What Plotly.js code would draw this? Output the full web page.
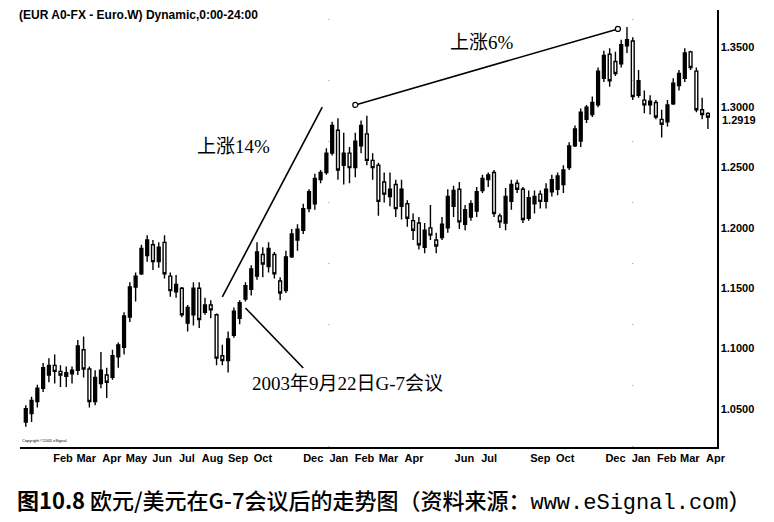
<!DOCTYPE html>
<html>
<head>
<meta charset="utf-8">
<script src="https://cdn.plot.ly/plotly-3.0.1.min.js"></script>
<style>
  html, body { margin: 0; padding: 0; background: #fff; }
  #chart { width: 774px; height: 522px; }
</style>
</head>
<body>
<div id="chart"></div>
<script>
// Weekly EUR/USD bars (first bar = week of 2002-12-30)
const firstWeek = '2002-12-30';

const openPx = [
  1.039, 1.046, 1.056, 1.067, 1.078, 1.086, 1.081, 1.077, 1.079, 1.082,
  1.099, 1.083, 1.056, 1.071, 1.078, 1.076, 1.093, 1.101, 1.126, 1.151,
  1.162, 1.177, 1.186, 1.172, 1.188, 1.160, 1.147, 1.150, 1.121, 1.128,
  1.150, 1.130, 1.136, 1.128, 1.094, 1.090, 1.111, 1.125, 1.141, 1.149,
  1.160, 1.178, 1.168, 1.178, 1.156, 1.148, 1.176, 1.190, 1.198, 1.216,
  1.220, 1.240, 1.246, 1.262, 1.281, 1.252, 1.262, 1.250, 1.268, 1.278,
  1.256, 1.252, 1.238, 1.226, 1.236, 1.218, 1.220, 1.206, 1.204, 1.184,
  1.200, 1.190, 1.192, 1.200, 1.218, 1.232, 1.203, 1.209, 1.214, 1.231,
  1.240, 1.246, 1.210, 1.204, 1.222, 1.237, 1.232, 1.208, 1.220, 1.228,
  1.222, 1.230, 1.232, 1.236, 1.250, 1.268, 1.272, 1.290, 1.294, 1.302,
  1.324, 1.344, 1.338, 1.336, 1.351, 1.355, 1.310, 1.306, 1.302, 1.304,
  1.290, 1.288, 1.303, 1.318, 1.324, 1.346, 1.330, 1.298, 1.295
];
const highPx = [
  1.053, 1.060, 1.070, 1.088, 1.092, 1.095, 1.086, 1.085, 1.085, 1.107,
  1.110, 1.085, 1.082, 1.097, 1.084, 1.099, 1.105, 1.130, 1.155, 1.163,
  1.186, 1.194, 1.190, 1.188, 1.194, 1.163, 1.161, 1.151, 1.136, 1.155,
  1.155, 1.142, 1.140, 1.129, 1.103, 1.114, 1.134, 1.140, 1.155, 1.169,
  1.188, 1.184, 1.188, 1.180, 1.159, 1.181, 1.199, 1.203, 1.220, 1.232,
  1.245, 1.248, 1.266, 1.288, 1.291, 1.279, 1.267, 1.279, 1.289, 1.293,
  1.262, 1.254, 1.246, 1.246, 1.240, 1.240, 1.223, 1.212, 1.209, 1.204,
  1.219, 1.196, 1.209, 1.232, 1.235, 1.238, 1.219, 1.223, 1.234, 1.244,
  1.246, 1.248, 1.212, 1.233, 1.240, 1.240, 1.234, 1.231, 1.231, 1.231,
  1.237, 1.244, 1.246, 1.252, 1.271, 1.285, 1.299, 1.302, 1.309, 1.333,
  1.347, 1.349, 1.346, 1.356, 1.3666, 1.358, 1.331, 1.314, 1.310, 1.306,
  1.298, 1.306, 1.324, 1.331, 1.349, 1.347, 1.333, 1.308, 1.296
];
const lowPx = [
  1.035, 1.039, 1.051, 1.064, 1.072, 1.071, 1.068, 1.068, 1.071, 1.078,
  1.076, 1.051, 1.053, 1.067, 1.059, 1.074, 1.084, 1.095, 1.122, 1.139,
  1.161, 1.172, 1.165, 1.167, 1.158, 1.143, 1.142, 1.126, 1.114, 1.119,
  1.117, 1.128, 1.125, 1.086, 1.086, 1.080, 1.109, 1.120, 1.139, 1.144,
  1.157, 1.159, 1.163, 1.158, 1.140, 1.146, 1.175, 1.181, 1.195, 1.213,
  1.215, 1.237, 1.244, 1.260, 1.240, 1.236, 1.237, 1.242, 1.262, 1.252,
  1.240, 1.210, 1.221, 1.218, 1.209, 1.207, 1.201, 1.190, 1.182, 1.179,
  1.190, 1.179, 1.190, 1.196, 1.209, 1.199, 1.198, 1.206, 1.209, 1.229,
  1.234, 1.209, 1.200, 1.198, 1.215, 1.229, 1.204, 1.206, 1.212, 1.216,
  1.216, 1.226, 1.227, 1.229, 1.248, 1.267, 1.267, 1.287, 1.292, 1.300,
  1.321, 1.317, 1.326, 1.333, 1.345, 1.306, 1.308, 1.295, 1.294, 1.290,
  1.275, 1.284, 1.302, 1.314, 1.321, 1.331, 1.296, 1.290, 1.282
];
const closePx = [
  1.050, 1.057, 1.067, 1.084, 1.086, 1.081, 1.078, 1.080, 1.082, 1.102,
  1.083, 1.056, 1.076, 1.082, 1.072, 1.094, 1.103, 1.127, 1.151, 1.160,
  1.183, 1.190, 1.172, 1.184, 1.162, 1.148, 1.153, 1.128, 1.134, 1.150,
  1.124, 1.136, 1.132, 1.092, 1.090, 1.108, 1.131, 1.138, 1.152, 1.166,
  1.180, 1.170, 1.183, 1.162, 1.146, 1.176, 1.195, 1.199, 1.216, 1.230,
  1.241, 1.246, 1.262, 1.285, 1.248, 1.262, 1.250, 1.272, 1.285, 1.256,
  1.250, 1.222, 1.228, 1.232, 1.216, 1.232, 1.208, 1.198, 1.186, 1.198,
  1.194, 1.185, 1.203, 1.226, 1.231, 1.205, 1.215, 1.220, 1.230, 1.241,
  1.244, 1.212, 1.205, 1.226, 1.236, 1.232, 1.207, 1.225, 1.226, 1.222,
  1.232, 1.240, 1.243, 1.248, 1.268, 1.282, 1.296, 1.300, 1.304, 1.330,
  1.343, 1.322, 1.328, 1.352, 1.356, 1.309, 1.322, 1.302, 1.305, 1.292,
  1.286, 1.302, 1.320, 1.328, 1.345, 1.333, 1.298, 1.294, 1.2919
];

// Month labels that the chart shows (some months are skipped)
const tickMonths = [
  '2003-02-01', '2003-03-01', '2003-04-01', '2003-05-01', '2003-06-01', '2003-07-01',
  '2003-08-01', '2003-09-01', '2003-10-01', '2003-12-01', '2004-01-01', '2004-02-01',
  '2004-03-01', '2004-04-01', '2004-06-01', '2004-07-01', '2004-09-01', '2004-10-01',
  '2004-12-01', '2005-01-01', '2005-02-01', '2005-03-01', '2005-04-01'
];
const tickNames = [
  'Feb', 'Mar', 'Apr', 'May', 'Jun', 'Jul', 'Aug', 'Sep', 'Oct', 'Dec', 'Jan', 'Feb',
  'Mar', 'Apr', 'Jun', 'Jul', 'Sep', 'Oct', 'Dec', 'Jan', 'Feb', 'Mar', 'Apr'
];
const priceTicks = [1.05, 1.10, 1.15, 1.20, 1.25, 1.30, 1.35];

// Hand-drawn trend lines on the chart: [date, price] ends
const rise14 = [['2003-08-25', 1.1427], ['2003-12-24', 1.3002]];
const rise6 = [['2004-02-02', 1.3020], ['2004-12-16', 1.3650]];
const g7Pointer = [['2003-09-22', 1.1336], ['2003-12-01', 1.0838]];

function weeklyDates(start, n) {
  const out = [];
  const d0 = new Date(start + 'T00:00:00Z');
  for (let i = 0; i < n; i++) {
    const d = new Date(d0.getTime() + i * 7 * 86400000);
    out.push(d.toISOString().slice(0, 10));
  }
  return out;
}

const weeks = weeklyDates(firstWeek, closePx.length);
const lastClose = closePx[closePx.length - 1];

const trace = {
  type: 'candlestick',
  x: weeks,
  open: openPx,
  high: highPx,
  low: lowPx,
  close: closePx,
  increasing: { line: { color: '#000', width: 1.4 }, fillcolor: '#000' },
  decreasing: { line: { color: '#000', width: 1.4 }, fillcolor: '#fff' },
  whiskerwidth: 0,
  hoverinfo: 'x+y'
};

function segment(pts) {
  return {
    type: 'line', xref: 'x', yref: 'y',
    x0: pts[0][0], y0: pts[0][1], x1: pts[1][0], y1: pts[1][1],
    line: { color: '#000', width: 1.6 }
  };
}

function ring(pt) {
  return {
    type: 'circle', xref: 'x', yref: 'y',
    xsizemode: 'pixel', ysizemode: 'pixel',
    xanchor: pt[0], yanchor: pt[1],
    x0: -2.5, x1: 2.5, y0: -2.5, y1: 2.5,
    line: { color: '#000', width: 1.2 }, fillcolor: '#fff'
  };
}

function yearLine(date) {
  return {
    type: 'line', xref: 'x', yref: 'paper',
    x0: date, x1: date, y0: 0, y1: 1,
    line: { color: '#999', width: 1, dash: '1px,60px' }
  };
}

const axisFont = { family: 'Liberation Sans, Arial, sans-serif', size: 11, weight: 'bold', color: '#000' };
const noteFont = { family: 'Liberation Serif, Noto Sans CJK SC, serif', size: 19, color: '#000' };

const layout = {
  width: 774,
  height: 522,
  margin: { l: 20, r: 57, t: 10, b: 75 },
  paper_bgcolor: '#fff',
  plot_bgcolor: '#fff',
  showlegend: false,
  xaxis: {
    type: 'date',
    range: ['2002-12-23', '2005-04-15'],
    rangeslider: { visible: false },
    tickmode: 'array',
    tickvals: tickMonths,
    ticktext: tickNames,
    ticklabelshift: 10,
    tickfont: axisFont,
    ticks: '',
    showgrid: false,
    zeroline: false,
    showline: true,
    linecolor: '#000',
    linewidth: 2
  },
  yaxis: {
    side: 'right',
    range: [1.0183, 1.3807],
    tickmode: 'array',
    tickvals: priceTicks,
    tickformat: '.4f',
    tickfont: axisFont,
    ticks: '',
    showgrid: false,
    zeroline: false,
    showline: true,
    linecolor: '#000',
    linewidth: 1.5
  },
  shapes: [
    yearLine('2004-01-01'),
    yearLine('2005-01-03'),
    segment(rise14),
    segment(rise6),
    segment(g7Pointer),
    ring(rise6[0]),
    ring(rise6[1])
  ],
  annotations: [
    {
      xref: 'paper', yref: 'paper', x: -0.004, y: 0.989,
      xanchor: 'left', yanchor: 'middle', showarrow: false,
      text: '(EUR A0-FX - Euro.W) Dynamic,0:00-24:00',
      font: { family: 'Liberation Sans, Arial, sans-serif', size: 12, weight: 'bold', color: '#000' }
    },
    {
      xref: 'paper', yref: 'paper', x: 0, y: 0.014,
      xanchor: 'left', yanchor: 'middle', showarrow: false,
      text: 'Copyright ©2005 eSignal',
      font: { family: 'Liberation Sans, Arial, sans-serif', size: 4, color: '#000' }
    },
    {
      xref: 'paper', yref: 'y', x: 1, y: lastClose,
      xanchor: 'left', yanchor: 'middle', xshift: 3, yshift: -3, showarrow: false,
      text: lastClose.toFixed(4),
      font: axisFont
    },
    {
      xref: 'x', yref: 'y', x: '2003-09-07', y: 1.2679, showarrow: false,
      text: '上涨14%', font: noteFont
    },
    {
      xref: 'x', yref: 'y', x: '2004-07-04', y: 1.3541, showarrow: false,
      text: '上涨6%', font: noteFont
    },
    {
      xref: 'x', yref: 'y', x: '2004-01-23', y: 1.0706, showarrow: false,
      text: '2003年9月22日G-7会议', font: noteFont
    },
    {
      xref: 'paper', yref: 'paper', x: 0.522, y: -0.121,
      xanchor: 'center', yanchor: 'middle', showarrow: false,
      text: '<b>图10.8</b> 欧元/美元在G-7会议后的走势图（资料来源：<span style="font-family:Liberation Mono, monospace">www.eSignal.com</span>）',
      font: { family: 'Noto Sans CJK SC, sans-serif', size: 22, weight: 500, color: '#000' }
    }
  ]
};

Plotly.newPlot('chart', [trace], layout, { displayModeBar: false, staticPlot: true });
</script>
</body>
</html>
